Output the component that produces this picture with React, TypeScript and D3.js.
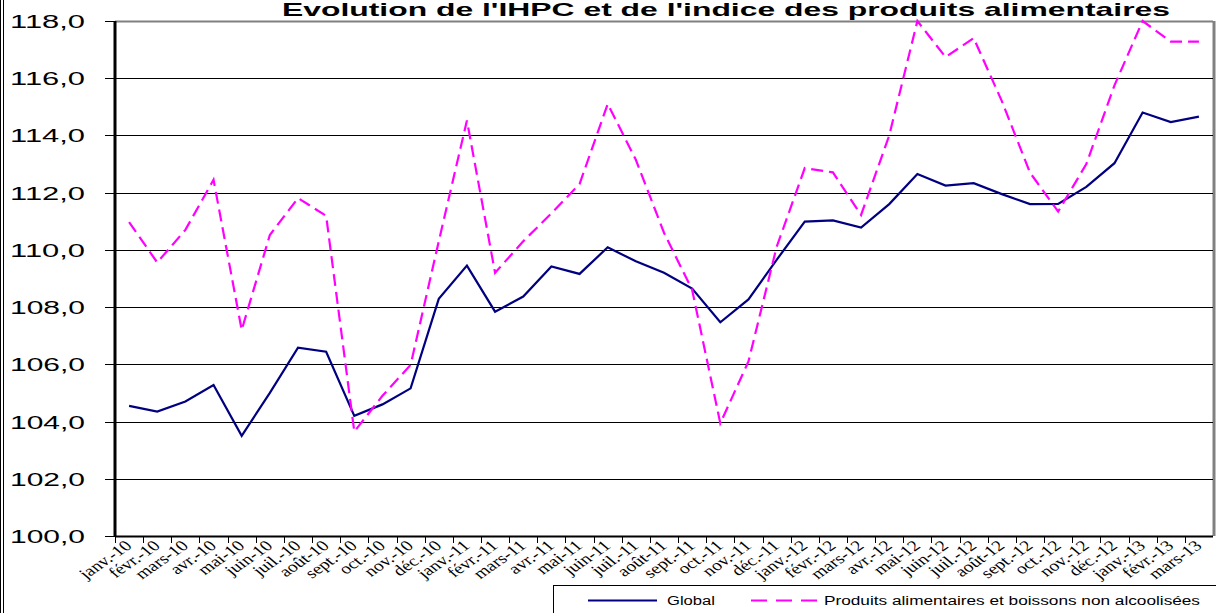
import React from 'react';
import * as d3 from 'd3';

const months = [
  'janv.-10', 'févr.-10', 'mars-10', 'avr.-10', 'mai-10', 'juin-10', 'juil.-10', 'août-10', 'sept.-10', 'oct.-10', 'nov.-10', 'déc.-10',
  'janv.-11', 'févr.-11', 'mars-11', 'avr.-11', 'mai-11', 'juin-11', 'juil.-11', 'août-11', 'sept.-11', 'oct.-11', 'nov.-11', 'déc.-11',
  'janv.-12', 'févr.-12', 'mars-12', 'avr.-12', 'mai-12', 'juin-12', 'juil.-12', 'août-12', 'sept.-12', 'oct.-12', 'nov.-12', 'déc.-12',
  'janv.-13', 'févr.-13', 'mars-13',
];

// IHPC global
const globalIndex = [
  104.55, 104.35, 104.7, 105.28, 103.5, 105.0, 106.58, 106.44, 104.2, 104.6, 105.16, 108.29,
  109.45, 107.84, 108.37, 109.42, 109.16, 110.09, 109.6, 109.2, 108.65, 107.47, 108.27, 109.65,
  110.99, 111.03, 110.78, 111.6, 112.65, 112.25, 112.33, 111.95, 111.6, 111.61, 112.2, 113.03,
  114.8, 114.47, 114.66,
];

// Produits alimentaires et boissons non alcoolisées
const foodIndex = [
  110.97, 109.56, 110.7, 112.45, 107.2, 110.52, 111.81, 111.19, 103.65, 104.9, 105.98, 110.3,
  114.52, 109.2, 110.3, 111.28, 112.3, 115.1, 113.15, 110.6, 108.6, 103.94, 106.1, 110.1,
  112.86, 112.71, 111.22, 114.0, 118.0, 116.74, 117.4, 115.2, 112.7, 111.34, 113.0, 115.75,
  118.0, 117.28, 117.28,
];

const yTicks = [100, 102, 104, 106, 108, 110, 112, 114, 116, 118];

const title = "Evolution de l'IHPC et de l'indice des produits alimentaires";

const W = 1216;
const H = 613;
const left = 115;
const right = 1213;
const top = 21;
const bottom = 536;

const App: React.FC = () => {
  const x = d3.scaleBand<string>().domain(months).range([left, right]).padding(0);
  const y = d3.scaleLinear().domain([100, 118]).range([bottom, top]);
  const cx = (i: number) => (x(months[i]) as number) + x.bandwidth() / 2;

  const line = d3.line<number>()
    .x((d, i) => cx(i))
    .y(d => y(d));

  const fmt = (v: number) => v.toFixed(1).replace('.', ',');

  return (
    <svg width={W} height={H} style={{ position: 'absolute', left: 0, top: 0, background: '#fff' }}>
      <rect x={0} y={0} width={W} height={H} fill="#fff" />
      {/* left frame */}
      <line x1={0.5} x2={0.5} y1={0} y2={H} stroke="#000" />
      <line x1={3.5} x2={3.5} y1={0} y2={H} stroke="#000" />

      {/* title */}
      <text x={282} y={16} fontFamily="Liberation Sans, Arial, sans-serif" fontWeight="bold" fontSize={19}
        textLength={888} lengthAdjust="spacingAndGlyphs">{title}</text>

      {/* plot frame */}
      <line x1={left} x2={right} y1={top + 0.5} y2={top + 0.5} stroke="#808080" strokeWidth={2} />
      <line x1={right + 1} x2={right + 1} y1={top} y2={bottom} stroke="#808080" strokeWidth={3} />

      {/* gridlines + y labels */}
      {yTicks.map(t => (
        <g key={t}>
          {t !== 100 && t !== 118 && (
            <line x1={left} x2={right} y1={Math.round(y(t)) + 0.5} y2={Math.round(y(t)) + 0.5} stroke="#000" />
          )}
          <line x1={left - 10} x2={left} y1={Math.round(y(t)) + 0.5} y2={Math.round(y(t)) + 0.5} stroke="#000" />
          <text x={85} y={y(t) + 7} textAnchor="end" fontFamily="Liberation Sans, Arial, sans-serif" fontSize={18}
            textLength={75} lengthAdjust="spacingAndGlyphs">{fmt(t)}</text>
        </g>
      ))}

      {/* axes */}
      <line x1={left} x2={right} y1={bottom + 0.5} y2={bottom + 0.5} stroke="#000" strokeWidth={2} />
      <line x1={left} x2={left} y1={top} y2={bottom + 1} stroke="#000" strokeWidth={3} />

      {/* x ticks */}
      {months.map(m => (
        <line key={'t' + m} x1={Math.round(x(m) as number) + 0.5} x2={Math.round(x(m) as number) + 0.5}
          y1={bottom} y2={bottom + 7} stroke="#000" />
      ))}
      {months.map((m, i) => (
        <text key={'l' + m} transform={`translate(${cx(i) + 4},${bottom + 11}) scale(1.3,1) rotate(-42)`}
          textAnchor="end" fontFamily="Liberation Serif, Times New Roman, serif" fontSize={15}>{m}</text>
      ))}

      {/* series */}
      <path d={line(globalIndex) as string} fill="none" stroke="#000080" strokeWidth={2.2} strokeLinejoin="miter" />
      <path d={line(foodIndex) as string} fill="none" stroke="#ff00ff" strokeWidth={2.2} strokeDasharray="12,6" />

      {/* legend */}
      <rect x={553.5} y={585.5} width={W} height={40} fill="#fff" stroke="#000" />
      <line x1={588} x2={657} y1={600.5} y2={600.5} stroke="#000080" strokeWidth={2.2} />
      <text x={667} y={605} fontFamily="Liberation Sans, Arial, sans-serif" fontSize={12}
        textLength={48} lengthAdjust="spacingAndGlyphs">Global</text>
      <line x1={751} x2={817} y1={600.5} y2={600.5} stroke="#ff00ff" strokeWidth={2.2} strokeDasharray="16,9" />
      <text x={824} y={605} fontFamily="Liberation Sans, Arial, sans-serif" fontSize={12}
        textLength={376} lengthAdjust="spacingAndGlyphs">Produits alimentaires et boissons non alcoolisées</text>
    </svg>
  );
};

export default App;
